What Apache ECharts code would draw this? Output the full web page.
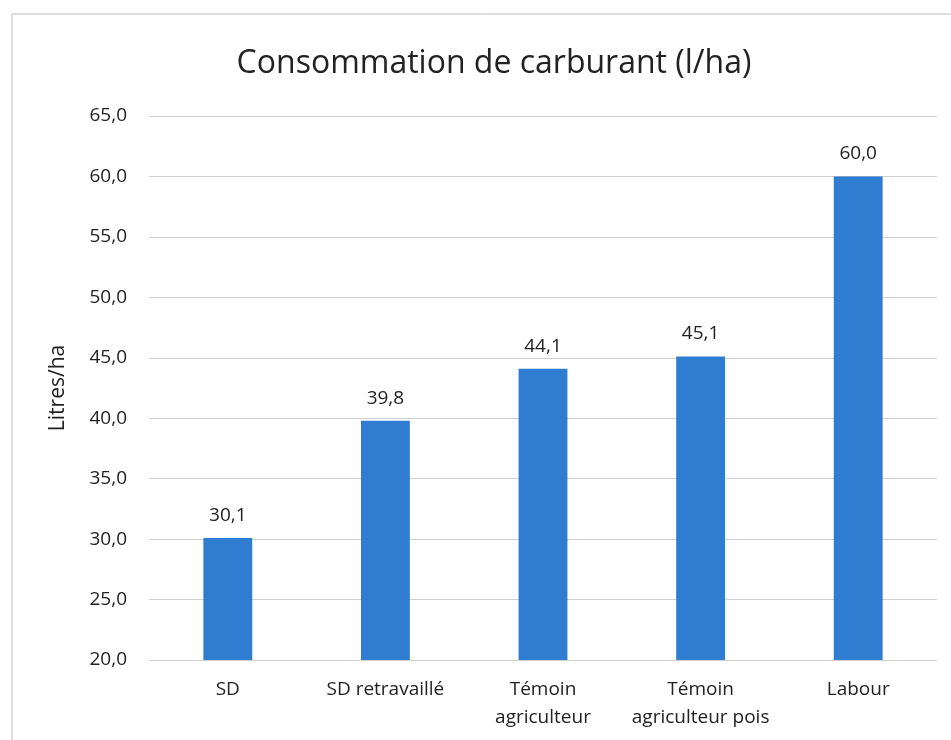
<!DOCTYPE html>
<html>
<head>
<meta charset="utf-8">
<script src="https://cdn.jsdelivr.net/npm/echarts@6/dist/echarts.min.js"></script>
<style>
  html, body { margin: 0; padding: 0; background: #fff; }
  #chart { width: 951px; height: 740px; }
</style>
</head>
<body>
<div id="chart"></div>
<script>
// données
const categories = ['SD', 'SD retravaillé', 'Témoin\nagriculteur', 'Témoin\nagriculteur pois', 'Labour']
const consommation = [30.1, 39.8, 44.1, 45.1, 60.0]

const fmt = v => v.toFixed(1).replace('.', ',')
const font = '"Open Sans", "Noto Sans", sans-serif'

const chart = echarts.init(document.getElementById('chart'))

chart.setOption({
  animation: false,
  textStyle: { fontFamily: font },
  title: {
    text: 'Consommation de carburant (l/ha)',
    left: 489,
    top: 43,
    textAlign: 'center',
    textStyle: { fontSize: 32, fontWeight: 'normal', color: '#222', fontFamily: font }
  },
  // cadre du graphique (coupé à droite et en bas)
  graphic: [{
    type: 'polyline',
    shape: { points: [[12, 740], [12, 14], [951, 14]] },
    style: { stroke: '#bdbdbd', lineWidth: 1, fill: null }
  }],
  grid: { left: 149, right: 14, top: 116, bottom: 80 },
  xAxis: {
    type: 'category',
    data: categories,
    axisLine: { show: false },
    axisTick: { show: false },
    axisLabel: { color: '#222', fontSize: 19, margin: 16, lineHeight: 28, interval: 0 }
  },
  yAxis: {
    type: 'value',
    min: 20,
    max: 65,
    interval: 5,
    name: 'Litres/ha',
    nameLocation: 'middle',
    nameGap: 80,
    nameTextStyle: { color: '#222', fontSize: 21 },
    axisLine: { show: false },
    axisTick: { show: false },
    axisLabel: { color: '#222', fontSize: 19, margin: 22, formatter: v => fmt(v) },
    splitLine: { lineStyle: { color: '#cfcfcf', width: 1 } }
  },
  series: [{
    type: 'bar',
    data: consommation,
    barWidth: '31%',
    itemStyle: { color: '#2e7dd1' },
    label: {
      show: true,
      position: 'top',
      distance: 13,
      color: '#222',
      fontSize: 19,
      formatter: p => fmt(p.value)
    }
  }]
})
</script>
</body>
</html>
